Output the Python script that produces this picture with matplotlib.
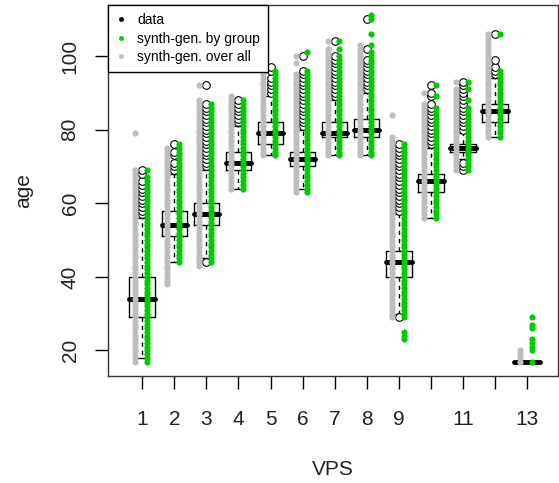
import numpy as np
import matplotlib
matplotlib.use("Agg")
from matplotlib import pyplot as plt
from matplotlib.lines import Line2D

plt.rcParams['font.family'] = ['Liberation Sans', 'DejaVu Sans']

groups = list(range(1, 14))
tick_labels = ['1', '2', '3', '4', '5', '6', '7', '8', '9', '', '11', '', '13']

# boxplot of the observed data, per VPS group
q1      = [29, 51, 54, 69, 76, 70, 78, 78, 40, 63, 74, 82, 17]
med     = [34, 54, 57, 71, 79, 72, 79, 80, 44, 66, 75, 85, 17]
q3      = [40, 58, 60, 74, 82, 74, 82, 83, 47, 68, 76, 87, 17]
whislo  = [18, 44, 45, 64, 73, 64, 73, 73, 30, 56, 72, 78, 17]
whishi  = [56, 68, 69, 81, 89, 80, 88, 90, 57, 75, 79, 94, 17]
outliers = [
    [57, 58, 59, 60, 61, 62, 63, 64, 65, 66, 68, 69],
    [69, 70, 71, 73, 74, 76],
    [44, 70, 71, 72, 73, 74, 75, 76, 77, 78, 79, 80, 81, 82, 83, 84, 85, 86, 87, 92],
    [82, 83, 84, 85, 86, 87, 88],
    [90, 91, 92, 93, 94, 96, 97],
    [81, 82, 83, 84, 85, 86, 87, 88, 89, 90, 91, 92, 93, 94, 95, 96, 100],
    [89, 90, 91, 92, 93, 94, 95, 96, 97, 98, 99, 100, 104],
    [91, 92, 93, 94, 95, 96, 97, 98, 99, 102, 110],
    [29, 58, 59, 60, 61, 62, 63, 64, 65, 66, 67, 68, 69, 70, 71, 72, 73, 74, 75, 76],
    [76, 77, 78, 79, 80, 81, 82, 83, 84, 85, 86, 87, 89, 90, 92],
    [69, 70, 71, 80, 81, 82, 83, 84, 85, 86, 87, 88, 89, 90, 91, 92, 93],
    [95, 96, 97, 99, 106],
    [],
]

# synthetic ages: each group shows every integer age between lo and hi, plus a few strays
grey_lo = [17, 38, 43, 64, 73, 63, 73, 73, 29, 56, 69, 78, 17]
grey_hi = [69, 75, 88, 89, 96, 95, 102, 103, 78, 87, 91, 106, 20]
grey_extra = [[79], [], [92], [], [], [98, 100], [104], [], [84], [90], [93], [], []]

green_lo = [17, 44, 44, 64, 73, 63, 73, 73, 29, 56, 69, 78, 17]
green_hi = [67, 76, 87, 88, 96, 96, 100, 101, 76, 86, 86, 96, 17]
green_extra = [[69], [], [], [], [], [101], [102, 104], [103, 106, 110, 111], [23, 24, 25],
               [89, 92], [88, 91, 93], [106], [20, 21, 22, 23, 26, 27, 29]]

grey_col = '#bebebe'
green_col = '#00cc00'

fig = plt.figure(figsize=(5.59, 4.83), dpi=100)
ax = fig.add_axes([108 / 559, 1 - 375.5 / 483, 450 / 559, 370.5 / 483])

stats = []
for i in range(len(groups)):
    stats.append(dict(med=med[i], q1=q1[i], q3=q3[i], whislo=whislo[i], whishi=whishi[i],
                      fliers=outliers[i]))

ax.bxp(stats, positions=groups, widths=0.8, capwidths=0.25, showfliers=True,
       boxprops=dict(color='black', linewidth=1),
       whiskerprops=dict(color='black', linewidth=1, linestyle=(0, (3, 3))),
       capprops=dict(color='black', linewidth=1),
       medianprops=dict(color='black', linewidth=3.5, solid_capstyle='round'),
       flierprops=dict(marker='o', markerfacecolor='white', markeredgecolor='black',
                       markersize=5.5, markeredgewidth=0.8))

for i, g in enumerate(groups):
    ys = np.concatenate([np.arange(grey_lo[i], grey_hi[i] + 1), grey_extra[i]])
    ax.scatter(np.full(len(ys), g - 0.22), ys, s=20, color=grey_col, linewidths=0, zorder=3)
    ys = np.concatenate([np.arange(green_lo[i], green_hi[i] + 1), green_extra[i]])
    ax.scatter(np.full(len(ys), g + 0.15), ys, s=20, color=green_col, linewidths=0, zorder=3)

ax.set_xlim(-0.07, 13.97)
ax.set_ylim(13.2, 113.85)
ax.set_xticks(groups)
ax.set_xticklabels(tick_labels)
ax.set_yticks([20, 40, 60, 80, 100])
ax.set_yticklabels(['20', '40', '60', '80', '100'], rotation=90, va='center')
ax.tick_params(axis='both', direction='out', length=9.5, width=1, labelsize=15,
               labelcolor='#222222')
ax.tick_params(axis='x', pad=15)
ax.tick_params(axis='y', pad=11)
ax.set_xlabel('VPS', fontsize=15, labelpad=23, color='#222222')
ax.set_ylabel('age', fontsize=15, labelpad=20, color='#222222')
for s in ax.spines.values():
    s.set_linewidth(1)
    s.set_color('#333333')

handles = [Line2D([], [], linestyle='none', marker='o', markersize=2.5, color=c)
           for c in ['black', green_col, grey_col]]
leg = ax.legend(handles, ['data', 'synth-gen. by group', 'synth-gen. over all'],
                loc='upper left', borderaxespad=0, fancybox=False, framealpha=1,
                edgecolor='black', fontsize=10, handlelength=0.7, handletextpad=0.8,
                borderpad=0.6, labelspacing=0.3)
leg.get_frame().set_linewidth(1)

fig.savefig('out.png', dpi=100)
